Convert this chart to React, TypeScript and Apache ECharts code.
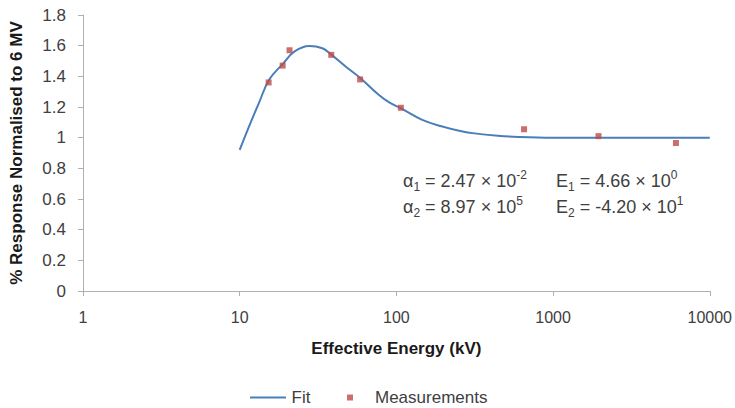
import React, { useEffect, useRef } from "react";
import * as echarts from "echarts";

const fitEnergy = [10, 11.6, 13.4, 15.4, 18.8, 22.3, 27.8, 33.7, 38.1, 47.4, 58.8, 77.1, 90, 108, 145, 194, 260, 315, 444, 600, 1000, 2000, 5000, 10000];
const fitResponse = [0.92, 1.085, 1.237, 1.378, 1.48, 1.561, 1.598, 1.583, 1.545, 1.464, 1.389, 1.28, 1.23, 1.189, 1.118, 1.074, 1.042, 1.028, 1.013, 1.005, 1.0, 1.0, 1.0, 1.0];

const measEnergy = [15.3, 18.8, 20.8, 38.4, 58.7, 106.8, 653, 1950, 6085];
const measResponse = [1.36, 1.47, 1.57, 1.54, 1.38, 1.195, 1.055, 1.01, 0.965];

const yTicks = { min: 0, max: 1.8, interval: 0.2 };
const xRange = { min: 1, max: 10000 };

const FONT = "Liberation Sans";
const TXT = "#404040";

export default function App() {
  const ref = useRef<HTMLDivElement>(null);
  useEffect(() => {
    document.body.style.margin = "0";
    if (!ref.current) return;
    const chart = echarts.init(ref.current, undefined, { renderer: "svg" });
    const sub = { fontSize: 12, verticalAlign: "bottom", lineHeight: 24, fontFamily: FONT, fill: TXT, padding: [7, 0, 0, 0] };
    const sup = { fontSize: 12, verticalAlign: "top", lineHeight: 24, fontFamily: FONT, fill: TXT, padding: [0, 0, 7, 0] };
    const base = { fontSize: 18, lineHeight: 24, fontFamily: FONT, fill: TXT };
    chart.setOption({
      animation: false,
      grid: { left: 79, right: 25, top: 15, bottom: 117 },
      xAxis: {
        type: "log",
        logBase: 10,
        min: xRange.min,
        max: xRange.max,
        name: "Effective Energy (kV)",
        nameLocation: "middle",
        nameGap: 49,
        nameTextStyle: { fontFamily: FONT, fontWeight: "bold", fontSize: 17, color: "#1a1a1a" },
        axisLine: { lineStyle: { color: "#b0b0b0" } },
        axisTick: { show: true, length: 5, lineStyle: { color: "#b0b0b0" } },
        minorTick: { show: false },
        splitLine: { show: false },
        axisLabel: { fontFamily: FONT, fontSize: 16, color: TXT, margin: 18, formatter: (v: number) => String(Math.round(v)) },
      },
      yAxis: {
        type: "value",
        min: yTicks.min,
        max: yTicks.max,
        interval: yTicks.interval,
        name: "% Response Normalised to 6 MV",
        nameLocation: "middle",
        nameGap: 58,
        nameTextStyle: { fontFamily: FONT, fontWeight: "bold", fontSize: 17, color: "#1a1a1a" },
        axisLine: { show: true, lineStyle: { color: "#b0b0b0" } },
        axisTick: { show: true, length: 5, lineStyle: { color: "#b0b0b0" } },
        splitLine: { show: false },
        axisLabel: { fontFamily: FONT, fontSize: 17, color: TXT, margin: 17 },
      },
      legend: [
        {
          data: [{ name: "Fit", icon: "path://M0,0H36V2H0Z" }],
          left: 250,
          top: 389,
          padding: 0,
          itemWidth: 37,
          itemHeight: 2,
          textStyle: { fontFamily: FONT, fontSize: 17, color: TXT },
        },
        {
          data: [{ name: "Measurements", icon: "rect" }],
          left: 347,
          top: 389,
          padding: 0,
          itemWidth: 6,
          itemHeight: 6,
          textStyle: { fontFamily: FONT, fontSize: 17, color: TXT, padding: [0, 0, 0, 17] },
        },
      ],
      series: [
        {
          name: "Fit",
          type: "line",
          smooth: 0.4,
          symbol: "none",
          lineStyle: { color: "#4a7ebb", width: 2 },
          itemStyle: { color: "#4a7ebb" },
          data: fitEnergy.map((e, i) => [e, fitResponse[i]]),
          z: 2,
        },
        {
          name: "Measurements",
          type: "scatter",
          symbol: "rect",
          symbolSize: 6,
          itemStyle: { color: "#be4b48" },
          data: measEnergy.map((e, i) => [e, measResponse[i]]),
          z: 3,
        },
      ],
      graphic: [
        {
          type: "text",
          left: 403,
          top: 169,
          style: { text: "α{sub|1} = 2.47 × 10{sup|-2}", rich: { sub, sup }, ...base },
        },
        {
          type: "text",
          left: 403,
          top: 195,
          style: { text: "α{sub|2} = 8.97 × 10{sup|5}", rich: { sub, sup }, ...base },
        },
        {
          type: "text",
          left: 556,
          top: 169,
          style: { text: "E{sub|1} = 4.66 × 10{sup|0}", rich: { sub, sup }, ...base },
        },
        {
          type: "text",
          left: 556,
          top: 195,
          style: { text: "E{sub|2} = -4.20 × 10{sup|1}", rich: { sub, sup }, ...base },
        },
      ],
    });
    return () => chart.dispose();
  }, []);
  return <div ref={ref} style={{ width: 735, height: 408 }} />;
}
